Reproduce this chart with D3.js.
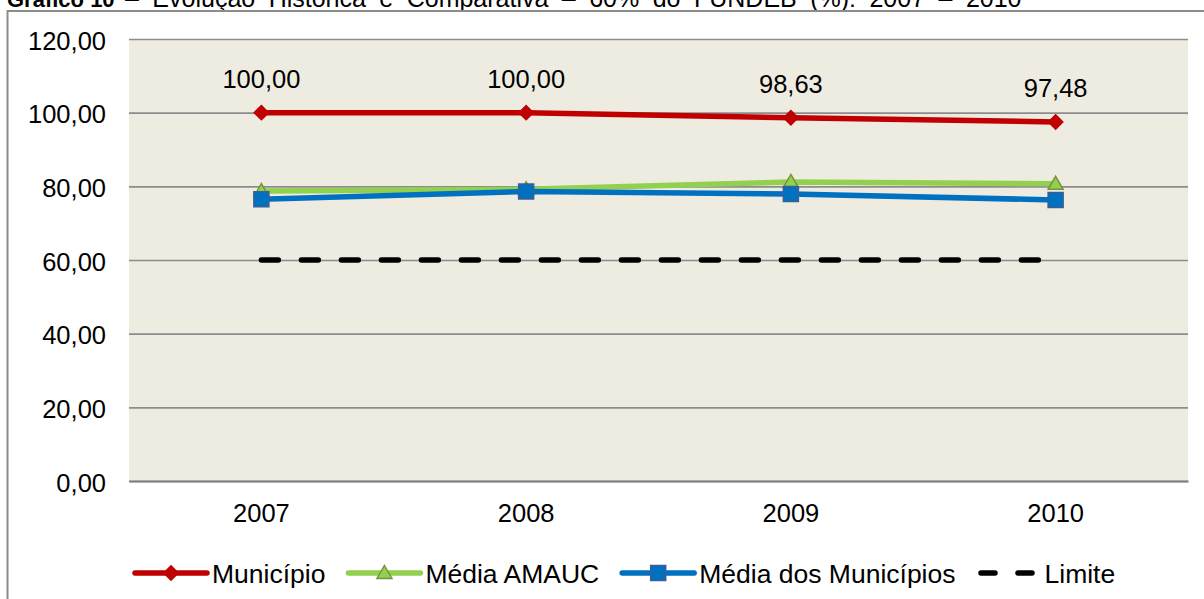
<!DOCTYPE html>
<html>
<head>
<meta charset="utf-8">
<script src="https://cdn.jsdelivr.net/npm/d3@7"></script>
<style>
  body { margin: 0; background: #fff; }
  svg { display: block; font-family: "Liberation Sans", Arial, sans-serif; }
</style>
</head>
<body>
<div class="chart"></div>
<script>
// data
const years = ['2007', '2008', '2009', '2010'];
const municipio = [100.0, 100.0, 98.63, 97.48];
const mediaAmauc = [78.7, 79.2, 81.2, 80.7];
const mediaMunicipios = [76.5, 78.6, 77.9, 76.3];
const limite = [60, 60, 60, 60];
const yTicks = [0, 20, 40, 60, 80, 100, 120];

const width = 1204;
const height = 599;
const margin = { top: 39, right: 16, bottom: 118, left: 129 };

const pt = d3.formatLocale({ decimal: ',', thousands: '.', grouping: [3], currency: ['R$', ''] });
const fmt = pt.format('.2f');

const svg = d3
  .select('.chart')
  .append('svg')
  .attr('width', width)
  .attr('height', height);

// title, cut off at the top of the picture
const title = svg.append('text').attr('x', 7).attr('y', 7).attr('fill', '#000');
title.append('tspan').attr('font-weight', 'bold').attr('font-size', 22).text('Gráfico 10');
const rest = title
  .append('tspan')
  .attr('x', 125)
  .attr('font-size', 25)
  .text('– Evolução Histórica e Comparativa – 60% do FUNDEB (%): 2007 – 2010');
const natural = rest.node().getComputedTextLength();
rest.attr('word-spacing', Math.max(0, (890 - natural) / 11));

// outer chart border (runs off the right and bottom edges)
svg
  .append('rect')
  .attr('x', 7.5)
  .attr('y', 11)
  .attr('width', 1300)
  .attr('height', 700)
  .attr('fill', 'none')
  .attr('stroke', '#8c8c8c')
  .attr('stroke-width', 2);

const x = d3
  .scaleBand()
  .domain(years)
  .range([margin.left, width - margin.right]);

const y = d3
  .scaleLinear()
  .domain([0, 120])
  .range([height - margin.bottom, margin.top]);

// plot background
svg
  .append('rect')
  .attr('x', margin.left)
  .attr('y', margin.top)
  .attr('width', width - margin.right - margin.left)
  .attr('height', y(0) - margin.top)
  .attr('fill', '#eeece1');

// gridlines
svg
  .append('g')
  .attr('transform', `translate(${margin.left},0)`)
  .call(
    d3
      .axisLeft(y)
      .tickValues(yTicks)
      .tickSize(-(width - margin.right - margin.left))
      .tickFormat('')
  )
  .call((g) => g.select('.domain').remove())
  .call((g) => g.selectAll('line').attr('stroke', '#8c8c8c').attr('stroke-width', 1.6));

// y labels
svg
  .append('g')
  .attr('transform', `translate(${margin.left},0)`)
  .call(d3.axisLeft(y).tickValues(yTicks).tickSize(0).tickPadding(23).tickFormat(fmt))
  .call((g) => g.select('.domain').remove())
  .call((g) =>
    g
      .selectAll('text')
      .attr('font-size', 25.5)
      .attr('font-family', '"Liberation Sans", Arial, sans-serif')
      .attr('fill', '#000')
      .attr('dy', '0.4em')
  );

// x axis
svg
  .append('g')
  .attr('transform', `translate(0,${y(0)})`)
  .call(d3.axisBottom(x).tickSize(0).tickPadding(23))
  .call((g) => g.select('.domain').attr('stroke', '#7f7f7f').attr('stroke-width', 2))
  .call((g) =>
    g
      .selectAll('text')
      .attr('font-size', 25.5)
      .attr('font-family', '"Liberation Sans", Arial, sans-serif')
      .attr('fill', '#000')
  );

const cx = (d, i) => x(years[i]) + x.bandwidth() / 2;
const line = d3
  .line()
  .x(cx)
  .y((d) => y(d));

const series = [
  { name: 'Município', values: municipio, color: '#c00000', marker: 'diamond', fill: '#c00000', stroke: '#c00000' },
  { name: 'Média AMAUC', values: mediaAmauc, color: '#92d050', marker: 'triangle', fill: '#92d050', stroke: '#77933c' },
  { name: 'Média dos Municípios', values: mediaMunicipios, color: '#0070c0', marker: 'square', fill: '#0070c0', stroke: '#3a5f95' },
  { name: 'Limite', values: limite, color: '#000', marker: null, dash: true },
];

const symbolPath = {
  diamond: d3.symbol().type(d3.symbolDiamond2).size(130)(),
  triangle: 'M0,-7.5L7.5,5.5L-7.5,5.5Z',
  square: 'M-7.5,-7.5H7.5V7.5H-7.5Z',
};

series.forEach((s) => {
  svg
    .append('path')
    .datum(s.values)
    .attr('d', line)
    .attr('fill', 'none')
    .attr('stroke', s.color)
    .attr('stroke-width', 5.5)
    .attr('stroke-linecap', s.dash ? 'round' : 'butt')
    .attr('stroke-linejoin', 'round')
    .attr('stroke-dasharray', s.dash ? '17,23' : null);

  if (s.marker) {
    svg
      .selectAll(null)
      .data(s.values)
      .enter()
      .append('path')
      .attr('d', symbolPath[s.marker])
      .attr('transform', (d, i) => `translate(${cx(d, i)},${y(d)})`)
      .attr('fill', s.fill)
      .attr('stroke', s.stroke)
      .attr('stroke-width', 1.5);
  }
});

// data labels for Município
svg
  .selectAll('.label')
  .data(municipio)
  .enter()
  .append('text')
  .attr('class', 'label')
  .attr('x', cx)
  .attr('y', (d) => y(d) - 25)
  .attr('text-anchor', 'middle')
  .attr('font-size', 25.5)
  .attr('fill', '#000')
  .text((d) => fmt(d));

// legend
const legend = svg.append('g').attr('transform', 'translate(135,573)');
let lx = 0;
series.forEach((s) => {
  const g = legend.append('g').attr('transform', `translate(${lx},0)`);
  if (s.dash) {
    g.append('line')
      .attr('x1', 2.5)
      .attr('x2', 60)
      .attr('stroke', '#000')
      .attr('stroke-width', 5.5)
      .attr('stroke-linecap', 'round')
      .attr('stroke-dasharray', '14,23');
  } else {
    g.append('line')
      .attr('x1', 0)
      .attr('x2', 72)
      .attr('stroke', s.color)
      .attr('stroke-width', 5.5)
      .attr('stroke-linecap', 'round');
    g.append('path')
      .attr('d', symbolPath[s.marker])
      .attr('transform', 'translate(36,0)')
      .attr('fill', s.fill)
      .attr('stroke', s.stroke)
      .attr('stroke-width', 1.5);
  }
  const tx = s.dash ? 66 : 77;
  const t = g
    .append('text')
    .attr('x', tx)
    .attr('dy', '0.36em')
    .attr('font-size', 26.5)
    .attr('fill', '#000')
    .text(s.name);
  lx += tx + t.node().getComputedTextLength() + 23;
});
</script>
</body>
</html>
